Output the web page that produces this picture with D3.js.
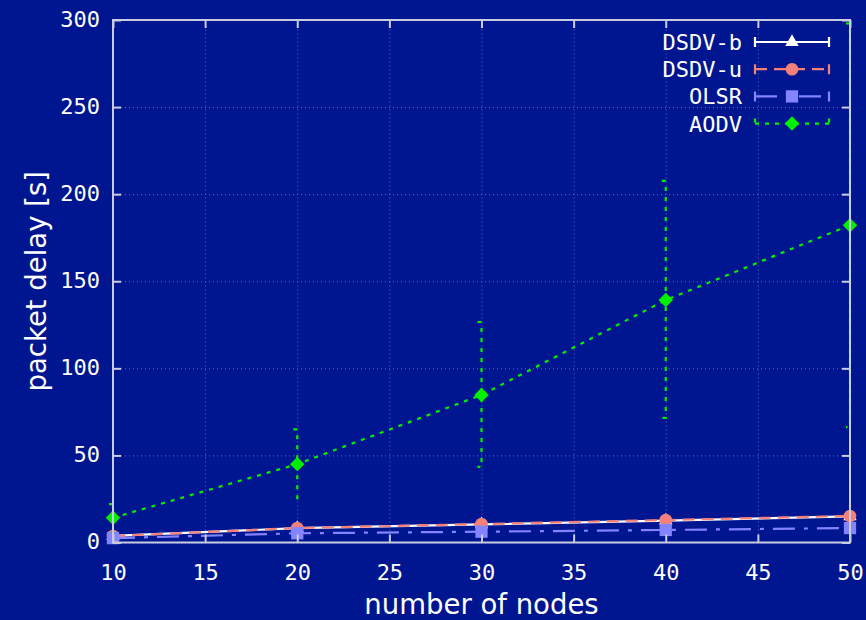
<!DOCTYPE html>
<html>
<head>
<meta charset="utf-8">
<script src="https://cdn.jsdelivr.net/npm/d3@7"></script>
<style>
  html, body { margin: 0; padding: 0; background: #001690; }
  svg { display: block; }
</style>
</head>
<body>
<figure id="chart" style="margin:0"></figure>
<script>
// data
const nodes = [10, 20, 30, 40, 50];
const dsdvB = [3.8, 8.2, 10.4, 12.6, 15.0];
const dsdvBErr = [0.8, 1.0, 1.0, 1.2, 1.2];
const dsdvU = [3.7, 8.3, 10.6, 12.9, 15.2];
const dsdvUErr = [0.8, 1.0, 1.0, 1.2, 1.2];
const olsr = [2.5, 5.3, 6.2, 7.2, 8.3];
const olsrErr = [0.6, 0.8, 0.8, 0.9, 1.0];
const aodv = [14.2, 45.0, 84.7, 139.2, 182.2];
const aodvLow = [6, 24.8, 43.4, 71.6, 66.3];
const aodvHigh = [22, 65, 126.6, 207.6, 298];
const xTicks = [10, 15, 20, 25, 30, 35, 40, 45, 50];
const yTicks = [0, 50, 100, 150, 200, 250, 300];

const width = 866, height = 620;
const margin = { top: 20, right: 16, bottom: 77.5, left: 113 };

const svg = d3.select("figure#chart")
  .append("svg")
  .attr("width", width)
  .attr("height", height)
  .attr("viewBox", [0, 0, width, height]);

svg.append("rect").attr("width", width).attr("height", height).attr("fill", "#001690");

const x = d3.scaleLinear().domain([10, 50]).range([margin.left, width - margin.right]);
const y = d3.scaleLinear().domain([0, 300]).range([height - margin.bottom, margin.top]);

const mono = "'DejaVu Sans Mono', monospace";
const sans = "'DejaVu Sans', sans-serif";
const borderCol = "#c8cce0";

// grid
svg.append("g")
    .attr("transform", `translate(0,${y(0)})`)
    .call(d3.axisBottom(x).tickValues(xTicks).tickSize(-(y(0) - y(300))).tickFormat(""))
    .call(g => g.select(".domain").remove())
    .call(g => g.selectAll("line").attr("stroke", "#5a6cc0").attr("stroke-dasharray", "1,3"));

svg.append("g")
    .attr("transform", `translate(${x(10)},0)`)
    .call(d3.axisLeft(y).tickValues(yTicks).tickSize(-(x(50) - x(10))).tickFormat(""))
    .call(g => g.select(".domain").remove())
    .call(g => g.selectAll("line").attr("stroke", "#5a6cc0").attr("stroke-dasharray", "1,3"));

// series definitions
const series = [
  { name: "DSDV-b", vals: dsdvB, lo: dsdvB.map((v, i) => v - dsdvBErr[i]), hi: dsdvB.map((v, i) => v + dsdvBErr[i]),
    color: "#ffffff", dash: null, marker: "triangle" },
  { name: "DSDV-u", vals: dsdvU, lo: dsdvU.map((v, i) => v - dsdvUErr[i]), hi: dsdvU.map((v, i) => v + dsdvUErr[i]),
    color: "#f4807a", dash: "12,7", marker: "circle" },
  { name: "OLSR", vals: olsr, lo: olsr.map((v, i) => v - olsrErr[i]), hi: olsr.map((v, i) => v + olsrErr[i]),
    color: "#8484ff", dash: "22,9,4,9", marker: "square" },
  { name: "AODV", vals: aodv, lo: aodvLow, hi: aodvHigh,
    color: "#00f000", dash: "4,6", marker: "diamond" }
];

const symbols = {
  triangle: { d: d3.symbol(d3.symbolTriangle, 80)(), rot: 0 },
  circle: { d: d3.symbol(d3.symbolCircle, 125)(), rot: 0 },
  square: { d: d3.symbol(d3.symbolSquare, 150)(), rot: 0 },
  diamond: { d: d3.symbol(d3.symbolSquare, 105)(), rot: 45 }
};

const line = d3.line().x(d => x(d[0])).y(d => y(d[1]));

series.forEach(s => {
  const g = svg.append("g");
  const pts = nodes.map((n, i) => [n, s.vals[i]]);
  // error bars
  nodes.forEach((n, i) => {
    g.append("path")
      .attr("d", `M${x(n) - 4},${y(s.hi[i])}H${x(n)}V${y(s.lo[i])}H${x(n) - 4}`)
      .attr("fill", "none")
      .attr("stroke", s.color)
      .attr("stroke-width", 2.2)
      .attr("stroke-dasharray", s.dash);
  });
  g.append("path")
    .datum(pts)
    .attr("d", line)
    .attr("fill", "none")
    .attr("stroke", s.color)
    .attr("stroke-width", 2.2)
    .attr("stroke-dasharray", s.dash);
  const sym = symbols[s.marker];
  g.selectAll(".m")
    .data(pts)
    .join("path")
      .attr("transform", d => `translate(${x(d[0])},${y(d[1])}) rotate(${sym.rot})`)
      .attr("d", sym.d)
      .attr("fill", s.color);
});

// border
svg.append("rect")
  .attr("x", x(10)).attr("y", y(300))
  .attr("width", x(50) - x(10)).attr("height", y(0) - y(300))
  .attr("fill", "none").attr("stroke", borderCol).attr("stroke-width", 2);

// axes with inward ticks
svg.append("g")
    .attr("transform", `translate(0,${y(0)})`)
    .call(d3.axisBottom(x).tickValues(xTicks).tickSize(-8).tickPadding(0))
    .call(g => g.select(".domain").remove())
    .call(g => g.selectAll("line").attr("stroke", borderCol).attr("stroke-width", 2))
    .call(g => g.selectAll("text").attr("y", 37).attr("dy", null)
      .attr("fill", "#ffffff").style("font-family", mono).style("font-size", "22px"));

svg.append("g")
    .attr("transform", `translate(0,${y(300)})`)
    .call(d3.axisTop(x).tickValues(xTicks).tickSize(-8).tickFormat(""))
    .call(g => g.select(".domain").remove())
    .call(g => g.selectAll("line").attr("stroke", borderCol).attr("stroke-width", 2));

svg.append("g")
    .attr("transform", `translate(${x(10)},0)`)
    .call(d3.axisLeft(y).tickValues(yTicks).tickSize(-8).tickPadding(0))
    .call(g => g.select(".domain").remove())
    .call(g => g.selectAll("line").attr("stroke", borderCol).attr("stroke-width", 2))
    .call(g => g.selectAll("text").attr("x", -13).attr("dy", "0.28em")
      .attr("fill", "#ffffff").style("font-family", mono).style("font-size", "22px"));

svg.append("g")
    .attr("transform", `translate(${x(50)},0)`)
    .call(d3.axisRight(y).tickValues(yTicks).tickSize(-8).tickFormat(""))
    .call(g => g.select(".domain").remove())
    .call(g => g.selectAll("line").attr("stroke", borderCol).attr("stroke-width", 2));

// axis titles
svg.append("text")
  .attr("x", (x(10) + x(50)) / 2).attr("y", 614)
  .attr("text-anchor", "middle").attr("fill", "#ffffff")
  .style("font-family", sans).style("font-size", "27.5px")
  .text("number of nodes");

svg.append("text")
  .attr("transform", `translate(46,${(y(0) + y(300)) / 2}) rotate(-90)`)
  .attr("text-anchor", "middle").attr("fill", "#ffffff")
  .style("font-family", sans).style("font-size", "27.5px")
  .text("packet delay [s]");

// legend
const legend = svg.append("g");
series.forEach((s, i) => {
  const ly = 42 + i * 27.2;
  const row = legend.append("g").attr("transform", `translate(0,${ly})`);
  row.append("text")
    .attr("x", 742).attr("dy", "0.36em")
    .attr("text-anchor", "end").attr("fill", "#ffffff")
    .style("font-family", mono).style("font-size", "22px")
    .text(s.name);
  row.append("path")
    .attr("d", "M755,-5V5M755,0H829M829,-5V5")
    .attr("fill", "none").attr("stroke", s.color).attr("stroke-width", 2.2)
    .attr("stroke-dasharray", s.dash);
  const sym = symbols[s.marker];
  row.append("path")
    .attr("transform", `translate(792,0) rotate(${sym.rot})`)
    .attr("d", sym.d)
    .attr("fill", s.color);
});
</script>
</body>
</html>
